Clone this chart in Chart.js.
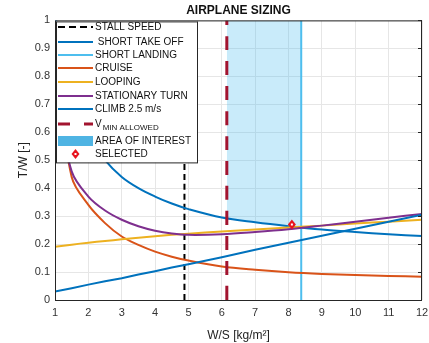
<!DOCTYPE html>
<html>
<head>
<meta charset="utf-8">
<script src="https://cdn.jsdelivr.net/npm/chart.js@4"></script>
<style>
  body { margin: 0; background: #fff; }
  #wrap { width: 429px; height: 343px; }
</style>
</head>
<body>
<div id="wrap"><canvas id="sizingChart"></canvas></div>
<script>
// W/S grid the curves were read at
const ws = [1, 1.5, 2, 2.5, 3, 3.5, 4, 4.5, 5, 6, 7, 8, 9, 10, 11, 12];

// T/W values
const shortTakeOff = [1.02, 0.73, 0.59, 0.50, 0.44, 0.40, 0.37, 0.345, 0.325, 0.295, 0.278, 0.264, 0.252, 0.243, 0.235, 0.229];
const cruise = [0.85, 0.44, 0.34, 0.275, 0.227, 0.197, 0.173, 0.155, 0.141, 0.12, 0.108, 0.099, 0.093, 0.089, 0.086, 0.083];
const looping = [0.19, 0.198, 0.205, 0.211, 0.217, 0.223, 0.228, 0.233, 0.237, 0.245, 0.252, 0.259, 0.266, 0.274, 0.28, 0.287];
const stationaryTurn = [0.75, 0.46, 0.37, 0.32, 0.287, 0.264, 0.248, 0.238, 0.233, 0.235, 0.243, 0.253, 0.266, 0.28, 0.294, 0.308];
const climb = [0.03, 0.042, 0.055, 0.067, 0.078, 0.091, 0.103, 0.116, 0.128, 0.153, 0.18, 0.205, 0.23, 0.255, 0.28, 0.305];

// vertical limits
const stallSpeed = 4.88;
const vMinAllowed = 6.15;
const shortLanding = 8.38;

// area of interest: between vMin and short landing, above the take off curve
const areaWs = [6.15, 6.5, 7, 7.5, 8, 8.38];
const areaTw = [0.293, 0.287, 0.278, 0.271, 0.264, 0.26];

const selected = { x: 8.1, y: 0.27 };

const C_BLUE = '#0072BD';
const C_LIGHTBLUE = '#4DBEEE';
const C_ORANGE = '#D95319';
const C_YELLOW = '#EDB120';
const C_PURPLE = '#7E2F8E';
const C_RED = '#A2142F';
const C_MARK = '#e8141e';

function pts(xs, ys) {
    return xs.map((x, i) => ({ x: x, y: ys[i] }));
}
function vline(x) {
    return [{ x: x, y: 0 }, { x: x, y: 1 }];
}

// legend entries (drawn by hand inside the plot, like matlab)
const legendItems = [
    { text: 'STALL SPEED', kind: 'line', color: '#000', dash: [7, 4] },
    { text: ' SHORT TAKE OFF', kind: 'line', color: C_BLUE },
    { text: 'SHORT LANDING', kind: 'line', color: C_LIGHTBLUE },
    { text: 'CRUISE', kind: 'line', color: C_ORANGE },
    { text: 'LOOPING', kind: 'line', color: C_YELLOW },
    { text: 'STATIONARY TURN', kind: 'line', color: C_PURPLE },
    { text: 'CLIMB 2.5 m/s', kind: 'line', color: C_BLUE },
    { text: 'V', sub: 'MIN ALLOWED', kind: 'line', color: C_RED, dash: [12, 14], width: 3 },
    { text: 'AREA OF INTEREST', kind: 'rect', color: '#4fb4e3' },
    { text: 'SELECTED', kind: 'marker', color: C_MARK }
];

function diamond(ctx, cx, cy, r, color) {
    ctx.fillStyle = color;
    ctx.beginPath();
    ctx.moveTo(cx, cy - r);
    ctx.lineTo(cx + r * 0.8, cy);
    ctx.lineTo(cx, cy + r);
    ctx.lineTo(cx - r * 0.8, cy);
    ctx.closePath();
    ctx.fill();
    ctx.fillStyle = '#fff';
    ctx.fillRect(cx - 1, cy - 1, 2, 2);
}

const boxLegend = {
    id: 'boxLegend',
    afterDatasetsDraw(chart) {
        // selected point marker, matlab diamond with a hollow centre
        const ctx = chart.ctx;
        const px = chart.scales.x.getPixelForValue(selected.x);
        const py = chart.scales.y.getPixelForValue(selected.y);
        diamond(ctx, px, py, 5, C_MARK);
    },
    afterDraw(chart) {
        const ctx = chart.ctx;
        const a = chart.chartArea;
        // axes box + right ticks
        ctx.save();
        ctx.strokeStyle = '#262626';
        ctx.lineWidth = 1;
        ctx.strokeRect(a.left + 0.5, a.top + 0.5, a.right - a.left - 1, a.bottom - a.top);
        const ys = chart.scales.y;
        for (let v = 0; v <= 1.0001; v += 0.1) {
            const py = Math.round(ys.getPixelForValue(v)) + 0.5;
            ctx.beginPath();
            ctx.moveTo(a.right - 4, py);
            ctx.lineTo(a.right, py);
            ctx.stroke();
        }
        // legend box
        const lx = a.left + 1, ly = a.top + 1, lw = 141, lh = 141;
        ctx.fillStyle = '#fff';
        ctx.fillRect(lx, ly, lw, lh);
        ctx.strokeStyle = '#262626';
        ctx.strokeRect(lx + 0.5, ly + 0.5, lw, lh);
        const font = '10px "Liberation Sans", Arial, sans-serif';
        ctx.font = font;
        ctx.textBaseline = 'middle';
        const rowY = [27, 42, 55, 68, 82, 96, 109, 124, 141, 154];
        legendItems.forEach((it, i) => {
            const y = rowY[i];
            const x0 = lx + 2, x1 = lx + 37;
            if (it.kind === 'line') {
                ctx.save();
                ctx.strokeStyle = it.color;
                ctx.lineWidth = it.width || 2;
                ctx.setLineDash(it.dash || []);
                ctx.beginPath();
                ctx.moveTo(x0, y);
                ctx.lineTo(x1, y);
                ctx.stroke();
                ctx.restore();
            } else if (it.kind === 'rect') {
                ctx.fillStyle = it.color;
                ctx.fillRect(x0, y - 5, x1 - x0, 10);
            } else {
                diamond(ctx, (x0 + x1) / 2, y, 5, it.color);
            }
            ctx.fillStyle = '#111';
            ctx.fillText(it.text, x1 + 2, y);
            if (it.sub) {
                const w = ctx.measureText(it.text).width;
                ctx.font = '8px "Liberation Sans", Arial, sans-serif';
                ctx.fillText(it.sub, x1 + 2 + w + 1, y + 4);
                ctx.font = font;
            }
        });
        ctx.restore();
    }
};

Chart.defaults.font.family = '"Liberation Sans", Arial, sans-serif';

const ctx = document.getElementById('sizingChart').getContext('2d');
new Chart(ctx, {
    type: 'line',
    data: {
        datasets: [
            { data: vline(vMinAllowed), borderColor: C_RED, borderWidth: 3, borderDash: [14, 11], order: 1 },
            { data: pts(ws, climb), borderColor: C_BLUE, borderWidth: 2, tension: 0, order: 2 },
            { data: pts(ws, stationaryTurn), borderColor: C_PURPLE, borderWidth: 2, order: 3 },
            { data: pts(ws, looping), borderColor: C_YELLOW, borderWidth: 2, order: 4 },
            { data: pts(ws, cruise), borderColor: C_ORANGE, borderWidth: 2, order: 5 },
            { data: vline(shortLanding), borderColor: C_LIGHTBLUE, borderWidth: 2, order: 6 },
            { data: pts(ws, shortTakeOff), borderColor: C_BLUE, borderWidth: 2, order: 7 },
            { data: vline(stallSpeed), borderColor: '#000', borderWidth: 2, borderDash: [6, 4], order: 8 },
            { data: pts(areaWs, areaTw), borderWidth: 0, pointRadius: 0, fill: 'end',
              backgroundColor: 'rgba(77,190,238,0.3)', borderColor: 'rgba(0,0,0,0)', order: 9 }
        ]
    },
    options: {
        responsive: true,
        maintainAspectRatio: false,
        animation: false,
        devicePixelRatio: 1,
        layout: { padding: { left: 0, right: 0, top: 0, bottom: 0 } },
        elements: {
            point: { radius: 0 },
            line: { tension: 0.35, fill: false }
        },
        plugins: {
            legend: { display: false },
            tooltip: { enabled: false },
            title: {
                display: true,
                fullSize: false,
                text: 'AIRPLANE SIZING',
                color: '#111',
                font: { size: 12, weight: 'bold' },
                padding: { top: 3, bottom: 3 }
            }
        },
        scales: {
            x: {
                type: 'linear',
                min: 1,
                max: 12,
                ticks: { stepSize: 1, color: '#333', font: { size: 11 }, padding: 6 },
                grid: { color: '#e6e6e6', tickLength: 0 },
                border: { display: false },
                title: { display: true, text: 'W/S [kg/m²]', color: '#222', font: { size: 12 }, padding: { top: 1, bottom: 0 } },
                afterFit(scale) {
                    scale.height = 43;
                    scale.paddingLeft = 0;
                    scale.paddingRight = 7;
                }
            },
            y: {
                min: 0,
                max: 1,
                ticks: {
                    stepSize: 0.1, color: '#333', font: { size: 11 }, padding: 5,
                    callback: v => String(Number(v.toFixed(1)))
                },
                grid: { color: '#e6e6e6', tickLength: 0 },
                border: { display: false },
                title: { display: true, text: 'T/W [-]', color: '#222', font: { size: 12 }, padding: { top: 16, bottom: 0 } },
                afterFit(scale) { scale.width = 55; }
            }
        }
    },
    plugins: [boxLegend]
});
</script>
</body>
</html>
